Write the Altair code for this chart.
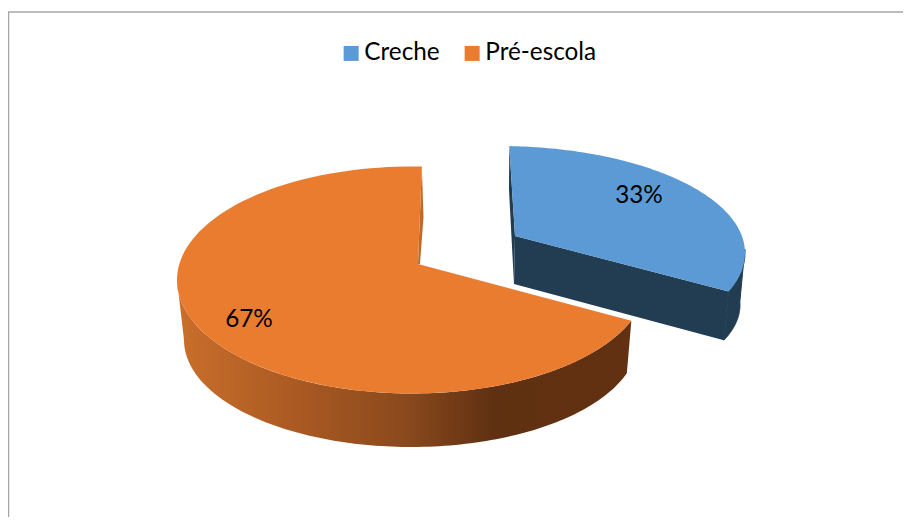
import math
import altair as alt

categories = ["Creche", "Pré-escola"]
shares = [33, 67]
colors = ["#5B9AD5", "#EA7C30"]
wall_colors = ["#223C52", "#C06A2A"]

# Projected drawing of each slice, in page pixels
layout = {
    "Creche": dict(top=(499, 253, 246, 107), low=(499, 305, 241, 98), apex=(515, 236), low_apex=(514, 284),
                   wall=(509, 190), side=(88, 113), low_shift=0, label=(639, 196)),
    "Pré-escola": dict(top=(412, 280, 235, 113.5), low=(411, 340, 227, 107), apex=(418, 264), low_apex=(420, 264),
                       wall=(423.5, 217), side=(111, 270), low_shift=-3, label=(249, 320)),
}
PX0, PY0, PW, PH = 8, 8, 895, 509


def warp(theta):
    return theta + 2.4 - 11.6 * math.sin(math.radians(theta))


def on(ell, t):
    cx, cy, a, b = ell
    r = math.radians(t)
    return [cx + a * math.sin(r), cy - b * math.cos(r)]


def arc(ell, t0, t1, n=120):
    return [on(ell, t0 + (t1 - t0) * i / n) for i in range(n + 1)]


def feature(name, pts):
    pts = [list(p) for p in pts] + [list(pts[0])]
    return {"type": "Feature", "properties": {"name": name},
            "geometry": {"type": "Polygon", "coordinates": [pts]}}


tops, walls, sides = [], [], {}
start = 0.0
for cat, share in zip(categories, shares):
    L = layout[cat]
    end = start + 360.0 * share / sum(shares)
    t0, t1 = warp(start), warp(end)
    tops.append(feature(cat, [L["apex"]] + arc(L["top"], t0, t1)))
    if cat == "Creche":
        walls.append(feature(cat, [on(L["top"], t0), L["wall"], L["low_apex"], L["apex"]]))
        walls.append(feature(cat, [L["apex"], on(L["top"], t1), on(L["low"], t1), L["low_apex"]]))
        sides[cat] = arc(L["top"], L["side"][0], t1) + arc(L["low"], t1, L["side"][0])
    else:
        walls.append(feature(cat, [on(L["top"], t1), L["wall"], L["low_apex"], L["apex"]]))
        sides[cat] = arc(L["top"], t0, L["side"][1]) + arc(L["low"], L["side"][1], t0 + L["low_shift"])
    start = end


def geo(values, **mark):
    mark.setdefault("strokeWidth", 0)
    return alt.Chart(alt.Data(values=values)).mark_geoshape(**mark).project(
        type="identity", scale=1, translate=[-PX0, -PY0])


x_scale = alt.Scale(domain=[PX0, PX0 + PW], range=[0, PW])
y_scale = alt.Scale(domain=[PY0, PY0 + PH], range=[0, PH])

wall_layer = geo(walls).encode(
    fill=alt.Fill("properties.name:N", legend=None,
                  scale=alt.Scale(domain=categories, range=wall_colors)))

side_blue = geo([feature("Creche", sides["Creche"])], fill=wall_colors[0], stroke=wall_colors[0], strokeWidth=1)
side_orange = geo([feature("Pré-escola", sides["Pré-escola"])], fill=alt.Gradient(
    gradient="linear", x1=1, x2=0, y1=0, y2=0,
    stops=[alt.GradientStop(color="#623112", offset=0.0),
           alt.GradientStop(color="#5F3011", offset=0.30),
           alt.GradientStop(color="#8A4A1D", offset=0.5),
           alt.GradientStop(color="#A85822", offset=0.72),
           alt.GradientStop(color="#CA6F2B", offset=1.0)]))

top_layer = geo(tops).encode(
    color=alt.Color("properties.name:N",
                    scale=alt.Scale(domain=categories, range=colors),
                    legend=alt.Legend(orient="none", legendX=331, legendY=33, direction="horizontal",
                                      title=None, symbolType="square", symbolSize=225, symbolStrokeWidth=0,
                                      labelFont="Lato", labelFontSize=24.3, labelColor="#000000",
                                      columns=2, columnPadding=20, labelOffset=1)))

label_rows = [{"x": layout[c]["label"][0], "y": layout[c]["label"][1], "t": f"{s}%"}
              for c, s in zip(categories, shares)]
labels = alt.Chart(alt.Data(values=label_rows)).mark_text(
    font="Lato", fontSize=24.3, color="#000000", align="center", baseline="middle").encode(
    x=alt.X("x:Q", scale=x_scale, axis=None),
    y=alt.Y("y:Q", scale=y_scale, axis=None),
    text="t:N")

frame_top = alt.Chart(alt.Data(values=[{"a": 1}])).mark_rule(color="#A6A6A6", strokeWidth=1.5).encode(
    x=alt.value(0), x2=alt.value(PW), y=alt.value(4))
frame_left = alt.Chart(alt.Data(values=[{"a": 1}])).mark_rule(color="#A6A6A6", strokeWidth=1.5).encode(
    x=alt.value(0.5), y=alt.value(4), y2=alt.value(PH))

chart = alt.layer(frame_top, frame_left, wall_layer, side_blue, side_orange, top_layer, labels).resolve_scale(
    color="independent", fill="independent").properties(
    width=PW, height=PH, padding=0, autosize=alt.AutoSizeParams(type="none"),
    background="white").configure_view(stroke=None)

chart.save("out.html", embed_options={"renderer": "svg", "actions": False})
